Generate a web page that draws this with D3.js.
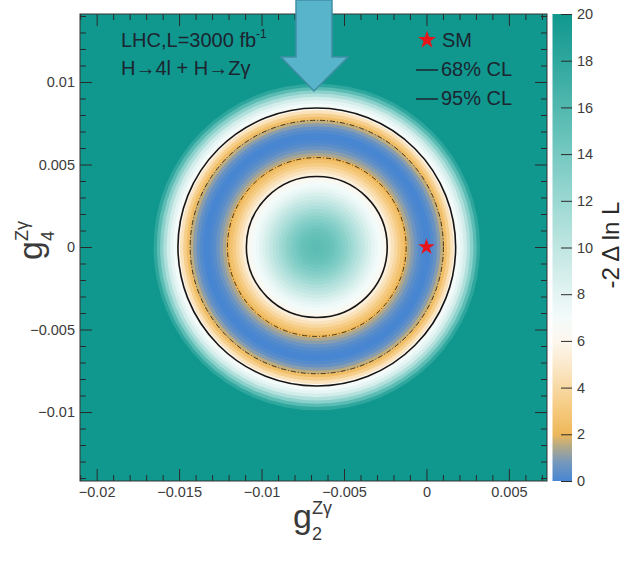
<!DOCTYPE html>
<html>
<head>
<meta charset="utf-8">
<script src="https://cdn.jsdelivr.net/npm/d3@7"></script>
<style>
  body { margin: 0; background: #fff; }
  text { font-family: "Liberation Sans", Arial, sans-serif; }
</style>
</head>
<body>
<div id="chart"></div>
<script>
// Frame of the histogram and colour bar (pixels)
var W = 635, H = 563;
var plotL = 80, plotR = 547, plotT = 14, plotB = 481;
var cbLeft = 552.5, cbRight = 572;

// Axis ranges and ticks
var xDomain = [-0.02101, 0.00731];
var yDomain = [-0.01418, 0.01412];
var xMajor = [-0.02, -0.015, -0.01, -0.005, 0, 0.005];
var yMajor = [-0.01, -0.005, 0, 0.005, 0.01];
var zTicks = [0, 2, 4, 6, 8, 10, 12, 14, 16, 18, 20];

// Likelihood ring: centre and radial profile of -2 Delta ln L
var ringCenter = [-0.00665, 0];
var profileR = [0, 0.0002, 0.0004, 0.0006, 0.0008, 0.0010, 0.0012, 0.0014, 0.0016, 0.0018,
                0.0020, 0.0022, 0.0024, 0.0026, 0.0028, 0.0030, 0.0032, 0.0034, 0.0036, 0.0038,
                0.0040, 0.0042, 0.0044, 0.0046, 0.0048, 0.0050, 0.0052, 0.0054, 0.0056, 0.0058,
                0.0060, 0.0062, 0.0064, 0.0066, 0.0068, 0.0070, 0.0072, 0.0074, 0.0076, 0.0078,
                0.0080, 0.0082, 0.0084, 0.0086, 0.0088, 0.0090, 0.0092, 0.0094, 0.0096, 0.0098,
                0.0100];
var profileVal = [15.5, 15.4, 15.3, 15.1, 14.9, 14.6, 14.2, 13.8, 13.3, 12.8,
                  12.2, 11.6, 11.0, 10.4, 9.8, 9.2, 8.6, 8.0, 7.5, 7.0,
                  6.6, 6.1, 5.4, 4.6, 3.9, 3.2, 2.6, 2.0, 1.4, 1.0,
                  0.6, 0.3, 0.1, 0.0, 0.0, 0.2, 0.5, 1.0, 1.6, 2.4,
                  3.4, 4.6, 6.1, 7.0, 7.8, 9.0, 10.8, 13.0, 15.5, 18.0,
                  20];

// Contour radii around the ring centre
var cl68Radii = [0.00542, 0.00768];
var cl95Radii = [0.00427, 0.00842];
var smPoint = [0, 0];

// Colour palette (value -> colour)
var cmapVals = [0, 0.8, 1.5, 2, 3, 4, 5, 6, 7, 8, 10, 12, 14, 16, 18, 20];
var cmapColors = ["#4886d2", "#7698bc", "#b5aa86", "#eeb85a", "#f5c97c", "#f8d9a4", "#fbe9cc",
                  "#fdf7ee", "#f3fbfa", "#e3f4f2", "#c0e6e2", "#9bd8d2", "#76c9c1", "#52b8af",
                  "#2fa79e", "#10978e"];

var x = d3.scaleLinear().domain(xDomain).range([plotL, plotR]);
var y = d3.scaleLinear().domain(yDomain).range([plotB, plotT]);
var z = d3.scaleLinear().domain([0, 20]).range([plotB, plotT]);
var color = d3.scaleLinear().domain(cmapVals).range(cmapColors).clamp(true);

var svg = d3.select("#chart").append("svg")
    .attr("width", W).attr("height", H);

var defs = svg.append("defs");
defs.append("clipPath").attr("id", "plotclip")
    .append("rect").attr("x", plotL).attr("y", plotT)
    .attr("width", plotR - plotL).attr("height", plotB - plotT);

// Heat map: background at max value then rings from outside in
var heat = svg.append("g").attr("clip-path", "url(#plotclip)");
heat.append("rect")
    .attr("x", plotL).attr("y", plotT)
    .attr("width", plotR - plotL).attr("height", plotB - plotT)
    .attr("fill", color(20));

var rings = profileR.map(function(r, i) { return { r: r, v: profileVal[i] }; }).reverse();
var halfStep = 0.0001;
heat.selectAll("ellipse.ring")
    .data(rings)
    .enter().append("ellipse")
    .attr("class", "ring")
    .attr("cx", x(ringCenter[0]))
    .attr("cy", y(ringCenter[1]))
    .attr("rx", function(d) { return x(ringCenter[0] + d.r + halfStep) - x(ringCenter[0]); })
    .attr("ry", function(d) { return y(ringCenter[1]) - y(ringCenter[1] + d.r + halfStep); })
    .attr("fill", function(d) { return color(d.v); });

// Contours
heat.selectAll("ellipse.cl68")
    .data(cl68Radii)
    .enter().append("ellipse")
    .attr("class", "cl68")
    .attr("cx", x(ringCenter[0])).attr("cy", y(ringCenter[1]))
    .attr("rx", function(d) { return x(ringCenter[0] + d) - x(ringCenter[0]); })
    .attr("ry", function(d) { return y(ringCenter[1]) - y(ringCenter[1] + d); })
    .attr("fill", "none").attr("stroke", "#4a3516").attr("stroke-width", 1)
    .attr("stroke-dasharray", "5,2,1,2");

heat.selectAll("ellipse.cl95")
    .data(cl95Radii)
    .enter().append("ellipse")
    .attr("class", "cl95")
    .attr("cx", x(ringCenter[0])).attr("cy", y(ringCenter[1]))
    .attr("rx", function(d) { return x(ringCenter[0] + d) - x(ringCenter[0]); })
    .attr("ry", function(d) { return y(ringCenter[1]) - y(ringCenter[1] + d); })
    .attr("fill", "none").attr("stroke", "#151515").attr("stroke-width", 1.6);

// SM star
var star = d3.symbol().type(d3.symbolStar).size(85);
svg.append("path")
    .attr("d", star())
    .attr("transform", "translate(" + x(smPoint[0]) + "," + y(smPoint[1]) + ")")
    .attr("fill", "#e8141c");

// Axes with ticks pointing inwards
var fmt = d3.format("~g");
var xMinor = d3.range(-21, 8).filter(function(d) { return d % 5 !== 0; }).map(function(d) { return d / 1000; });
var yMinor = d3.range(-14, 15).filter(function(d) { return d % 5 !== 0; }).map(function(d) { return d / 1000; });

function styleAxis(g) {
    g.select(".domain").remove();
    g.selectAll(".tick line").attr("stroke", "#2a2a2a");
    g.selectAll(".tick text").attr("fill", "#3c3c3c").style("font-size", "14.5px");
}

svg.append("g").attr("transform", "translate(0," + plotB + ")")
    .call(d3.axisBottom(x).tickValues(xMajor).tickSize(-12).tickPadding(6).tickFormat(fmt))
    .call(styleAxis);
svg.append("g").attr("transform", "translate(0," + plotB + ")")
    .call(d3.axisBottom(x).tickValues(xMinor).tickSize(-6).tickFormat(""))
    .call(styleAxis);
svg.append("g").attr("transform", "translate(0," + plotT + ")")
    .call(d3.axisTop(x).tickValues(xMajor).tickSize(-12).tickFormat(""))
    .call(styleAxis);
svg.append("g").attr("transform", "translate(0," + plotT + ")")
    .call(d3.axisTop(x).tickValues(xMinor).tickSize(-6).tickFormat(""))
    .call(styleAxis);

svg.append("g").attr("transform", "translate(" + plotL + ",0)")
    .call(d3.axisLeft(y).tickValues(yMajor).tickSize(-12).tickPadding(5).tickFormat(fmt))
    .call(styleAxis);
svg.append("g").attr("transform", "translate(" + plotL + ",0)")
    .call(d3.axisLeft(y).tickValues(yMinor).tickSize(-6).tickFormat(""))
    .call(styleAxis);
svg.append("g").attr("transform", "translate(" + plotR + ",0)")
    .call(d3.axisRight(y).tickValues(yMajor).tickSize(-12).tickFormat(""))
    .call(styleAxis);
svg.append("g").attr("transform", "translate(" + plotR + ",0)")
    .call(d3.axisRight(y).tickValues(yMinor).tickSize(-6).tickFormat(""))
    .call(styleAxis);

// Frame
svg.append("rect")
    .attr("x", plotL).attr("y", plotT)
    .attr("width", plotR - plotL).attr("height", plotB - plotT)
    .attr("fill", "none").attr("stroke", "#333").attr("stroke-width", 1);

// Axis titles g_2^{Z gamma} and g_4^{Z gamma}
function coupling(g, sub) {
    g.append("text").attr("x", 0).attr("y", 0).style("font-size", "34px").attr("fill", "#3a3a3a").text("g");
    g.append("text").attr("x", 19).attr("y", -14).style("font-size", "18px").attr("fill", "#3a3a3a").text("Zγ");
    g.append("text").attr("x", 19).attr("y", 12).style("font-size", "18px").attr("fill", "#3a3a3a").text(sub);
}
coupling(svg.append("g").attr("transform", "translate(293,528)"), "2");
coupling(svg.append("g").attr("transform", "translate(42,260) rotate(-90)"), "4");

// Colour bar
var grad = defs.append("linearGradient").attr("id", "cbgrad")
    .attr("x1", 0).attr("y1", 1).attr("x2", 0).attr("y2", 0);
grad.selectAll("stop")
    .data(cmapVals)
    .enter().append("stop")
    .attr("offset", function(d) { return d / 20; })
    .attr("stop-color", function(d, i) { return cmapColors[i]; });

svg.append("rect")
    .attr("x", cbLeft).attr("y", plotT)
    .attr("width", cbRight - cbLeft).attr("height", plotB - plotT)
    .attr("fill", "url(#cbgrad)");

svg.append("g").attr("transform", "translate(" + cbRight + ",0)")
    .call(d3.axisRight(z).tickValues(zTicks).tickSize(-11).tickPadding(5).tickFormat(fmt))
    .call(styleAxis);

svg.append("text")
    .attr("transform", "translate(619,245) rotate(-90)")
    .attr("text-anchor", "middle")
    .style("font-size", "24px").attr("fill", "#2a2a2a")
    .text("-2 Δ ln L");

// Legend text, upper left
var lt = svg.append("text").attr("x", 121).attr("y", 47).style("font-size", "20px").attr("fill", "#1c2530");
lt.append("tspan").text("LHC,L=3000 fb");
lt.append("tspan").attr("dy", -9).style("font-size", "12px").text("-1");
svg.append("text").attr("x", 121).attr("y", 75).style("font-size", "20px").attr("fill", "#1c2530")
    .text("H→4l + H→Zγ");

// Legend, upper right
svg.append("path").attr("d", d3.symbol().type(d3.symbolStar).size(100)())
    .attr("transform", "translate(427,40)").attr("fill", "#e8141c");
svg.append("text").attr("x", 442).attr("y", 47).style("font-size", "20px").attr("fill", "#1c2530").text("SM");
svg.append("line").attr("x1", 416).attr("x2", 438).attr("y1", 70).attr("y2", 70).attr("stroke", "#1c2530").attr("stroke-width", 1.5);
svg.append("text").attr("x", 441).attr("y", 76).style("font-size", "20px").attr("fill", "#1c2530").text("68% CL");
svg.append("line").attr("x1", 416).attr("x2", 438).attr("y1", 99).attr("y2", 99).attr("stroke", "#1c2530").attr("stroke-width", 1.5);
svg.append("text").attr("x", 441).attr("y", 105).style("font-size", "20px").attr("fill", "#1c2530").text("95% CL");

// Annotation arrow from the top
svg.append("polygon")
    .attr("points", "296,0 332,0 332,57 348,57 314,91 281,57 296,57")
    .attr("fill", "#58b4cb").attr("stroke", "#3f8ea4").attr("stroke-width", 1.5);
</script>
</body>
</html>
